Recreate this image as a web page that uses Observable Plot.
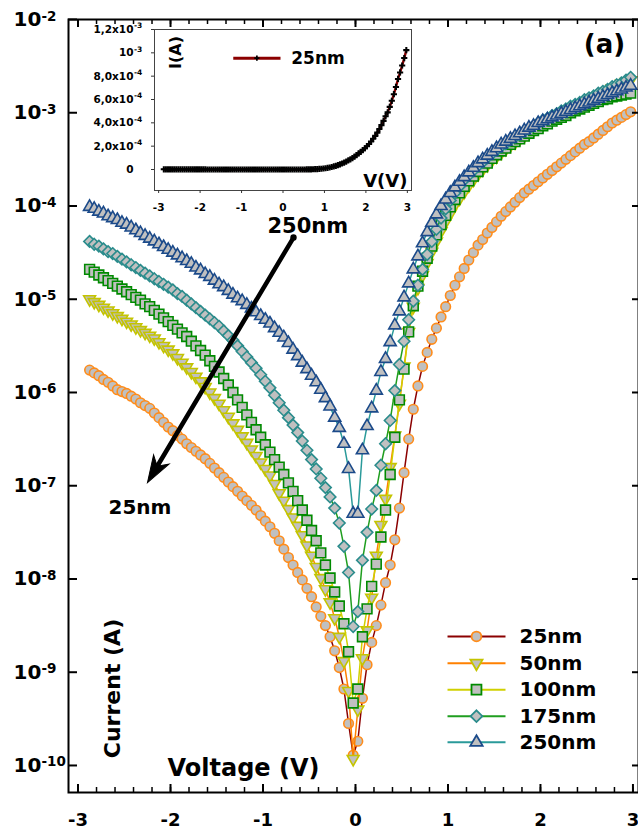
<!DOCTYPE html>
<html><head><meta charset="utf-8">
<script src="https://cdn.jsdelivr.net/npm/d3@7"></script>
<script src="https://cdn.jsdelivr.net/npm/@observablehq/plot@0.6"></script>
<style>
body{margin:0;background:#fff;}
#wrap{position:relative;width:638px;height:830px;overflow:hidden;background:#fff;}
#inset{position:absolute;left:80px;top:22px;}
</style></head><body><div id="wrap"><div id="main"></div><div id="inset"></div></div>
<script>
// Voltage sweep (V)
const voltage = [
-2.875,-2.825,-2.775,-2.725,-2.675,-2.625,-2.575,-2.525,-2.475,-2.425,
-2.375,-2.325,-2.275,-2.225,-2.175,-2.125,-2.075,-2.025,-1.975,-1.925,
-1.875,-1.825,-1.775,-1.725,-1.675,-1.625,-1.575,-1.525,-1.475,-1.425,
-1.375,-1.325,-1.275,-1.225,-1.175,-1.125,-1.075,-1.025,-0.975,-0.925,
-0.875,-0.825,-0.775,-0.725,-0.675,-0.625,-0.575,-0.525,-0.475,-0.425,
-0.375,-0.325,-0.275,-0.225,-0.175,-0.125,-0.075,-0.025,0.025,0.075,
0.125,0.175,0.225,0.275,0.325,0.375,0.425,0.475,0.525,0.575,
0.625,0.675,0.725,0.775,0.825,0.875,0.925,0.975,1.025,1.075,
1.125,1.175,1.225,1.275,1.325,1.375,1.425,1.475,1.525,1.575,
1.625,1.675,1.725,1.775,1.825,1.875,1.925,1.975,2.025,2.075,
2.125,2.175,2.225,2.275,2.325,2.375,2.425,2.475,2.525,2.575,
2.625,2.675,2.725,2.775,2.825,2.875,2.925,2.975];

// log10 of current (A)
const log25 = [
-5.76,-5.79,-5.82,-5.86,-5.89,-5.93,-5.97,-5.99,-6.01,-6.04,
-6.07,-6.11,-6.14,-6.17,-6.22,-6.27,-6.32,-6.37,-6.41,-6.46,
-6.50,-6.55,-6.59,-6.63,-6.67,-6.71,-6.76,-6.81,-6.86,-6.91,
-6.96,-7.01,-7.06,-7.11,-7.16,-7.21,-7.26,-7.32,-7.38,-7.44,
-7.51,-7.59,-7.68,-7.77,-7.85,-7.93,-8.01,-8.10,-8.19,-8.30,
-8.40,-8.50,-8.62,-8.77,-8.95,-9.18,-9.55,-9.89,-9.74,-9.28,
-8.92,-8.68,-8.50,-8.28,-8.04,-7.85,-7.58,-7.24,-6.86,-6.50,
-6.18,-5.93,-5.72,-5.57,-5.43,-5.31,-5.19,-5.08,-4.96,-4.85,
-4.76,-4.67,-4.58,-4.50,-4.42,-4.36,-4.29,-4.23,-4.17,-4.11,
-4.06,-4.01,-3.96,-3.91,-3.86,-3.82,-3.78,-3.74,-3.70,-3.66,
-3.62,-3.58,-3.54,-3.50,-3.46,-3.42,-3.38,-3.34,-3.31,-3.27,
-3.23,-3.19,-3.15,-3.11,-3.08,-3.05,-3.02,-2.99];
const log50 = [
-5.00,-5.03,-5.06,-5.09,-5.12,-5.15,-5.18,-5.21,-5.24,-5.27,
-5.30,-5.33,-5.36,-5.39,-5.42,-5.46,-5.50,-5.54,-5.58,-5.63,
-5.68,-5.73,-5.78,-5.83,-5.88,-5.94,-6.00,-6.06,-6.12,-6.19,
-6.26,-6.33,-6.40,-6.47,-6.54,-6.61,-6.68,-6.75,-6.82,-6.89,
-6.98,-7.08,-7.16,-7.25,-7.34,-7.43,-7.53,-7.64,-7.75,-7.87,
-7.99,-8.11,-8.25,-8.42,-8.62,-8.88,-9.20,-9.93,-9.40,-8.85,
-8.55,-8.20,-7.75,-7.42,-7.14,-6.80,-6.46,-6.12,-5.72,-5.35,
-5.08,-4.88,-4.74,-4.61,-4.49,-4.38,-4.27,-4.17,-4.08,-3.99,
-3.92,-3.85,-3.78,-3.72,-3.66,-3.61,-3.56,-3.51,-3.47,-3.43,
-3.39,-3.35,-3.32,-3.28,-3.25,-3.22,-3.19,-3.16,-3.13,-3.10,
-3.07,-3.05,-3.02,-2.99,-2.97,-2.94,-2.92,-2.89,-2.87,-2.84,
-2.82,-2.79,-2.77,-2.74,-2.72,-2.69,-2.67,-2.65];
const log100 = [
-4.68,-4.71,-4.74,-4.77,-4.80,-4.83,-4.86,-4.89,-4.92,-4.95,
-4.98,-5.01,-5.05,-5.08,-5.12,-5.16,-5.20,-5.24,-5.28,-5.32,
-5.36,-5.40,-5.45,-5.50,-5.55,-5.60,-5.66,-5.72,-5.78,-5.85,
-5.92,-6.00,-6.08,-6.16,-6.24,-6.32,-6.40,-6.48,-6.56,-6.64,
-6.72,-6.80,-6.88,-6.97,-7.06,-7.16,-7.26,-7.37,-7.48,-7.59,
-7.72,-7.85,-7.99,-8.14,-8.29,-8.48,-8.78,-9.33,-9.18,-8.62,
-8.32,-8.08,-7.84,-7.55,-7.26,-6.88,-6.48,-6.08,-5.75,-5.35,
-5.07,-4.86,-4.70,-4.56,-4.43,-4.31,-4.20,-4.10,-4.01,-3.93,
-3.86,-3.79,-3.73,-3.68,-3.63,-3.58,-3.54,-3.49,-3.45,-3.41,
-3.38,-3.34,-3.31,-3.28,-3.25,-3.22,-3.19,-3.17,-3.14,-3.12,
-3.09,-3.07,-3.05,-3.03,-3.00,-2.98,-2.96,-2.94,-2.92,-2.90,
-2.88,-2.86,-2.85,-2.83,-2.82,-2.81,-2.80,-2.79];
const log175 = [
-4.38,-4.41,-4.43,-4.46,-4.49,-4.51,-4.54,-4.57,-4.60,-4.63,
-4.66,-4.69,-4.72,-4.75,-4.78,-4.81,-4.84,-4.87,-4.90,-4.94,
-4.97,-5.01,-5.05,-5.09,-5.13,-5.17,-5.21,-5.25,-5.29,-5.34,
-5.39,-5.44,-5.50,-5.56,-5.62,-5.68,-5.74,-5.81,-5.88,-5.95,
-6.03,-6.11,-6.19,-6.27,-6.35,-6.43,-6.52,-6.62,-6.72,-6.82,
-6.92,-7.02,-7.12,-7.24,-7.40,-7.65,-7.93,-8.51,-8.35,-7.80,
-7.50,-7.25,-7.05,-6.78,-6.55,-6.30,-5.98,-5.70,-5.45,-5.22,
-5.02,-4.85,-4.68,-4.52,-4.38,-4.25,-4.13,-4.03,-3.94,-3.86,
-3.79,-3.72,-3.67,-3.62,-3.57,-3.53,-3.48,-3.44,-3.40,-3.36,
-3.33,-3.29,-3.26,-3.23,-3.20,-3.17,-3.14,-3.11,-3.08,-3.06,
-3.03,-3.01,-2.98,-2.96,-2.93,-2.91,-2.89,-2.86,-2.84,-2.82,
-2.79,-2.77,-2.75,-2.72,-2.70,-2.68,-2.65,-2.62];
const log250 = [
-4.01,-4.03,-4.06,-4.08,-4.11,-4.13,-4.15,-4.18,-4.20,-4.23,
-4.26,-4.29,-4.32,-4.35,-4.38,-4.41,-4.44,-4.47,-4.50,-4.53,
-4.56,-4.59,-4.62,-4.66,-4.69,-4.73,-4.76,-4.80,-4.84,-4.87,
-4.91,-4.95,-4.99,-5.02,-5.06,-5.10,-5.14,-5.18,-5.22,-5.26,
-5.31,-5.36,-5.41,-5.47,-5.54,-5.61,-5.68,-5.75,-5.82,-5.89,
-5.97,-6.06,-6.15,-6.27,-6.38,-6.55,-6.82,-7.30,-7.30,-6.62,
-6.36,-6.17,-5.98,-5.78,-5.64,-5.46,-5.28,-5.13,-4.98,-4.83,
-4.68,-4.54,-4.40,-4.28,-4.18,-4.09,-4.00,-3.93,-3.86,-3.80,
-3.74,-3.69,-3.64,-3.59,-3.54,-3.50,-3.46,-3.42,-3.38,-3.34,
-3.31,-3.28,-3.25,-3.22,-3.19,-3.16,-3.14,-3.11,-3.09,-3.07,
-3.05,-3.03,-3.01,-2.99,-2.97,-2.95,-2.93,-2.91,-2.89,-2.87,
-2.85,-2.83,-2.81,-2.79,-2.77,-2.75,-2.73,-2.71];

const seriesNames = ["25nm", "50nm", "100nm", "175nm", "250nm"];
const seriesLogCurrent = [log25, log50, log100, log175, log250];

// tick values and labels
const xMajorTicks = [-3, -2, -1, 0, 1, 2, 3];
const xTickLabels = ["-3", "-2", "-1", "0", "1", "2", "3"];
const xMinorTicks = [-3,-2.8,-2.6,-2.4,-2.2,-2,-1.8,-1.6,-1.4,-1.2,-1,-0.8,-0.6,-0.4,-0.2,0,0.2,0.4,0.6,0.8,1,1.2,1.4,1.6,1.8,2,2.2,2.4,2.6,2.8,3];
const yTicks = [1e-10, 1e-9, 1e-8, 1e-7, 1e-6, 1e-5, 1e-4, 1e-3, 1e-2];
const yTickExponents = ["-10", "-9", "-8", "-7", "-6", "-5", "-4", "-3", "-2"];
const insetYTicks = [0, 2e-4, 4e-4, 6e-4, 8e-4, 1e-3, 1.2e-3];
const insetYLabels = ["0", "2,0x10", "4,0x10", "6,0x10", "8,0x10", "10", "1,2x10"];
const insetYExponents = ["", "-4", "-4", "-4", "-4", "-3", "-3"];

// styles
const lineColors = ["#8b0000", "#ff8000", "#d0d000", "#1f9e1f", "#2a9a9a"];
const markerColors = ["#ff8c1a", "#c4c400", "#008a00", "#2a8c8c", "#1b4a8a"];
const symbols = ["circle", "triangle", "square", "diamond2", "triangle"];
const rotations = [0, 180, 0, 0, 0];
const radii = [4.8, 4.4, 5.5, 5.2, 4.5];

const rows = seriesNames.flatMap((name, s) =>
  voltage.map((v, k) => ({series: name, V: v, I: Math.pow(10, seriesLogCurrent[s][k])})));

// layout (main chart)
const W = 638, H = 830, mL = 68, mR = 0, mT = 19, mB = 38;
const plotW = W - mL - mR, plotH = H - mT - mB;
const legendLayout = {x1: 0.995, x2: 1.622, xMarker: 1.308, xText: 1.773,
  y: [2.42e-9, 1.25e-9, 6.5e-10, 3.38e-10, 1.77e-10]};
const arrowLayout = {xTail: -0.67, yTail: 4.59e-5, xTip: -2.249, yTip: 1.08e-7, headRotate: 210.8};

const arrowHead = {draw(ctx) { ctx.moveTo(0, 0); ctx.lineTo(-9, 27); ctx.lineTo(0, 19); ctx.lineTo(9, 27); ctx.closePath(); }};

const seriesMarks = seriesNames.flatMap((name, s) => {
  const data = rows.filter(d => d.series === name);
  return [
    Plot.line(data, {x: "V", y: "I", stroke: lineColors[s], strokeWidth: 1.5}),
    Plot.dot(data, {x: "V", y: "I", symbol: symbols[s], r: radii[s], rotate: rotations[s],
      stroke: markerColors[s], fill: "#c0c0c0", strokeWidth: 1.6})
  ];
});

const legendMarks = seriesNames.flatMap((name, s) => [
  Plot.link([name], {x1: legendLayout.x1, x2: legendLayout.x2, y1: legendLayout.y[s], y2: legendLayout.y[s],
    stroke: lineColors[s], strokeWidth: 2}),
  Plot.dot([name], {x: legendLayout.xMarker, y: legendLayout.y[s], symbol: symbols[s], r: radii[s] + 0.1,
    rotate: rotations[s], stroke: markerColors[s], fill: "#c0c0c0", strokeWidth: 1.8}),
  Plot.text([name], {x: legendLayout.xText, y: legendLayout.y[s], text: d => d, textAnchor: "start",
    lineAnchor: "middle", fontSize: 20, fontWeight: "bold", fill: "black"})
]);

const main = Plot.plot({
  width: W, height: H, marginLeft: mL, marginRight: mR, marginTop: mT, marginBottom: mB,
  x: {domain: [-3.103, 3.06], axis: null},
  y: {type: "log", domain: [5.13e-11, 1e-2], axis: null},
  style: {fontFamily: "'DejaVu Sans', sans-serif", background: "white", overflow: "visible"},
  marks: [
    ...seriesMarks,
    // arrow annotation
    Plot.arrow([0], {x1: arrowLayout.xTail, y1: arrowLayout.yTail, x2: arrowLayout.xTip, y2: arrowLayout.yTip,
      headLength: 0, insetEnd: 17, strokeWidth: 4.5, stroke: "black"}),
    Plot.dot([0], {x: arrowLayout.xTip, y: arrowLayout.yTip, symbol: arrowHead, rotate: arrowLayout.headRotate, fill: "black", stroke: "black", strokeWidth: 1}),
    Plot.dot([0], {x: arrowLayout.xTail, y: arrowLayout.yTail, r: 3.2, fill: "black"}),
    Plot.text(["250nm"], {frameAnchor: "top-left", dx: 199, dy: 213, textAnchor: "start", lineAnchor: "bottom", fontSize: 21, fontWeight: "bold"}),
    Plot.text(["25nm"], {frameAnchor: "top-left", dx: 40, dy: 494, textAnchor: "start", lineAnchor: "bottom", fontSize: 20, fontWeight: "bold"}),
    Plot.text(["(a)"], {frameAnchor: "top-right", dx: -34, dy: 33, textAnchor: "middle", lineAnchor: "bottom", fontSize: 26, fontWeight: "bold"}),
    // axis titles inside the frame
    Plot.text(["Voltage (V)"], {frameAnchor: "bottom-left", dx: 99, dy: -17, textAnchor: "start", lineAnchor: "bottom", fontSize: 24, fontWeight: "bold"}),
    Plot.text(["Current (A)"], {frameAnchor: "bottom-left", dx: 44, dy: -104, rotate: -90, textAnchor: "middle", lineAnchor: "middle", fontSize: 22, fontWeight: "bold"}),
    ...legendMarks,
    // inward ticks
    Plot.tickX(xMinorTicks, {x: d => d, insetBottom: plotH - 5, strokeWidth: 1.5}),
    Plot.tickX(xMajorTicks, {x: d => d, insetBottom: plotH - 8, strokeWidth: 2}),
    Plot.tickX(xMinorTicks, {x: d => d, insetTop: plotH - 5, strokeWidth: 1.5}),
    Plot.tickX(xMajorTicks, {x: d => d, insetTop: plotH - 8, strokeWidth: 2}),
    Plot.tickY(yTicks, {y: d => d, insetRight: plotW - 9, strokeWidth: 2}),
    Plot.tickY(yTicks, {y: d => d, insetLeft: plotW - 6, strokeWidth: 2}),
    // tick labels
    Plot.text(xMajorTicks, {x: d => d, text: (d, i) => xTickLabels[i], frameAnchor: "bottom", dy: 33, lineAnchor: "bottom", fontSize: 18, fontWeight: "bold"}),
    Plot.text(yTicks, {y: d => d, text: () => "10", frameAnchor: "left", dx: -55, dy: 6.5, textAnchor: "start", lineAnchor: "bottom", fontSize: 20, fontWeight: "bold"}),
    Plot.text(yTicks, {y: d => d, text: (d, i) => yTickExponents[i], frameAnchor: "left", dx: -27, dy: 1, textAnchor: "start", lineAnchor: "bottom", fontSize: 13.5, fontWeight: "bold"}),
    Plot.frame({stroke: "black", strokeWidth: 2})
  ]
});
document.getElementById("main").appendChild(main);

// inset: linear I-V of the 25nm sample
const insetRows = voltage.map((v, k) => ({V: v, I: Math.pow(10, log25[k])}));
const insetLegend = {x1: -1.2, x2: -0.06, xMarker: -0.63, xText: 0.2, y: 9.54e-4};
const inset = Plot.plot({
  width: 340, height: 200, marginLeft: 74, marginRight: 9, marginTop: 7, marginBottom: 32,
  x: {domain: [-3.1, 3.1], axis: null},
  y: {domain: [-1.8e-4, 1.2e-3], axis: null},
  style: {fontFamily: "'DejaVu Sans', sans-serif", background: "transparent", overflow: "visible"},
  marks: [
    Plot.frame({fill: "white", stroke: "#444", strokeWidth: 1}),
    Plot.axisY({ticks: insetYTicks, tickSize: 3, tickFormat: () => "", label: null, stroke: "#333"}),
    Plot.axisX({ticks: xMajorTicks, tickSize: 3, tickFormat: () => "", label: null, stroke: "#333"}),
    Plot.line(insetRows, {x: "V", y: "I", stroke: "#8b0000", strokeWidth: 2.4}),
    Plot.dot(insetRows, {x: "V", y: "I", symbol: "cross", r: 2.6, fill: "black"}),
    Plot.link([0], {x1: insetLegend.x1, x2: insetLegend.x2, y1: insetLegend.y, y2: insetLegend.y, stroke: "#8b0000", strokeWidth: 3}),
    Plot.dot([0], {x: insetLegend.xMarker, y: insetLegend.y, symbol: "cross", r: 2.2, fill: "black"}),
    Plot.text(["25nm"], {x: insetLegend.xText, y: insetLegend.y, textAnchor: "start", lineAnchor: "middle", fontSize: 17, fontWeight: "bold"}),
    Plot.text(["I(A)"], {frameAnchor: "top-left", dx: 21, dy: 23, rotate: -90, textAnchor: "middle", lineAnchor: "middle", fontSize: 16, fontWeight: "bold"}),
    Plot.text(["V(V)"], {frameAnchor: "bottom-right", dx: -4, dy: -4, textAnchor: "end", lineAnchor: "bottom", fontSize: 18, fontWeight: "bold"}),
    Plot.text(insetYTicks, {y: d => d, text: (d, i) => insetYLabels[i], frameAnchor: "left", dx: -21, textAnchor: "end", lineAnchor: "middle", fontSize: 10.5, fontWeight: "bold"}),
    Plot.text(insetYTicks, {y: d => d, text: (d, i) => insetYExponents[i], frameAnchor: "left", dx: -20.5, dy: -3.5, textAnchor: "start", lineAnchor: "middle", fontSize: 7.5, fontWeight: "bold"}),
    Plot.text(xMajorTicks, {x: d => d, text: (d, i) => xTickLabels[i], frameAnchor: "bottom", dy: 17, lineAnchor: "middle", fontSize: 10.5, fontWeight: "bold"})
  ]
});
document.getElementById("inset").appendChild(inset);
</script>
</body></html>
